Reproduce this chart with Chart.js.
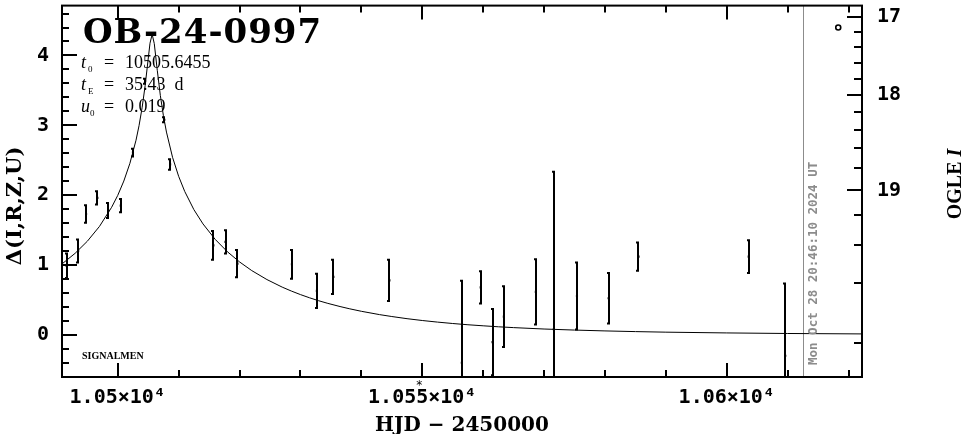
<!DOCTYPE html>
<html>
<head>
<meta charset="utf-8">
<script src="https://cdn.jsdelivr.net/npm/chart.js@4.4.1/dist/chart.umd.min.js"></script>
<style>
html, body { margin: 0; padding: 0; background: #fff; }
#wrap { width: 965px; height: 434px; }
</style>
</head>
<body>
<div id="wrap"><canvas id="lc" width="965" height="434"></canvas></div>
<script>
// photometry: HJD - 2450000, delta, error
var obsT = [10491.6, 10493.5, 10494.8, 10496.65, 10498.45, 10500.5, 10502.5, 10504.5, 10507.65, 10508.6,
            10515.7, 10517.7, 10519.65, 10528.6, 10532.7, 10535.4, 10544.6, 10556.5, 10559.6, 10561.55,
            10563.4, 10568.65, 10571.6, 10575.4, 10580.6, 10585.5, 10603.6, 10609.6];
var obsD = [0.99, 1.20, 1.73, 1.96, 1.78, 1.85, 2.61, 3.63, 3.08, 2.44,
            1.28, 1.33, 1.02, 1.01, 0.63, 0.83, 0.78, -0.40, 0.68, -0.105,
            0.26, 0.615, 0.08, 0.556, 0.523, 1.12, 1.12, -0.30];
var obsErr = [0.19, 0.18, 0.14, 0.11, 0.12, 0.11, 0.07, 0.05, 0.05, 0.09,
              0.22, 0.18, 0.21, 0.22, 0.26, 0.26, 0.31, 1.19, 0.245, 0.49,
              0.45, 0.48, 2.27, 0.495, 0.377, 0.217, 0.25, 1.05];

// model curve
var modelT = [10490.85, 10493, 10495, 10497, 10499, 10500, 10501, 10502, 10503, 10503.5,
              10504, 10504.5, 10505, 10505.3, 10505.65, 10506, 10506.5, 10507, 10507.5, 10508,
              10509, 10510, 10511, 10512.5, 10514, 10516, 10518, 10520, 10522, 10524.5,
              10527, 10528.5, 10530, 10531.5, 10533, 10534.5, 10536.5, 10538, 10540, 10543,
              10545, 10547.5, 10550, 10552.5, 10555, 10557.5, 10560, 10562.5, 10565, 10570,
              10575, 10580, 10585, 10590, 10600, 10610, 10622.2];
var modelD = [1.015, 1.167, 1.339, 1.552, 1.826, 1.996, 2.202, 2.456, 2.786, 2.995,
              3.250, 3.566, 3.949, 4.176, 4.303, 4.170, 3.782, 3.425, 3.137, 2.903,
              2.542, 2.270, 2.053, 1.793, 1.588, 1.367, 1.190, 1.044, 0.920, 0.791,
              0.683, 0.627, 0.576, 0.530, 0.488, 0.450, 0.405, 0.374, 0.337, 0.289,
              0.262, 0.231, 0.205, 0.182, 0.162, 0.144, 0.129, 0.115, 0.103, 0.083,
              0.068, 0.056, 0.046, 0.038, 0.027, 0.019, 0.013];

var ogleMark = [{ x: 10618.3, y: 4.40 }];
var nowT = 10612.5;
var starT = 10549.5;

var xMajor = [10500, 10550, 10600];
var xMajorLabels = ["1.05×10⁴", "1.055×10⁴", "1.06×10⁴"];
var yMajor = [0, 1, 2, 3, 4];
var yMajorLabels = ["0", "1", "2", "3", "4"];
var magMajor = [17, 18, 19];
var magMajorLabels = ["17", "18", "19"];

var xMin = 10490.85, xMax = 10622.2;
var yMin = -0.604, yMax = 4.714;

// OGLE I magnitude -> delta on the left axis
var blendMag = 20, deltaOffset = 1.62;
function magToDelta(m) {
    return 2.5 * Math.log10(Math.pow(10, -0.4 * (m - blendMag)) - 1) + deltaOffset;
}

var xTicks = [];
for (var k = 0; k <= 12; k++) xTicks.push(10500 + 10 * k);
var yTicks = [];
for (var k = -3; k <= 23; k++) yTicks.push(k / 5);
var magTicks = [];
for (var k = 0; k <= 14; k++) magTicks.push((170 + 2 * k) / 10);

var black = "#000";
var grey = "#8c8c8c";
var tickFont = { family: "DejaVu Sans Mono", weight: "bold", size: 20 };

function noPad(s) {
    s.paddingTop = 0; s.paddingBottom = 0; s.paddingLeft = 0; s.paddingRight = 0;
}

var overlay = {
    id: "overlay",
    beforeDatasetsDraw: function (chart) {
        var ctx = chart.ctx, a = chart.chartArea;
        var xs = chart.scales.x, ys = chart.scales.y;
        ctx.save();
        ctx.beginPath();
        ctx.rect(a.left, a.top, a.right - a.left, a.bottom - a.top);
        ctx.clip();

        var nx = Math.round(xs.getPixelForValue(nowT)) + 0.5;
        ctx.strokeStyle = grey;
        ctx.lineWidth = 1;
        ctx.beginPath();
        ctx.moveTo(nx, a.top);
        ctx.lineTo(nx, a.bottom);
        ctx.stroke();

        ctx.strokeStyle = black;
        ctx.lineWidth = 2;
        ctx.beginPath();
        for (var i = 0; i < obsT.length; i++) {
            var x = Math.round(xs.getPixelForValue(obsT[i]));
            var y1 = ys.getPixelForValue(obsD[i] + obsErr[i]);
            var y2 = ys.getPixelForValue(obsD[i] - obsErr[i]);
            ctx.moveTo(x, y1); ctx.lineTo(x, y2);
            ctx.moveTo(x - 2, y1 + 1); ctx.lineTo(x + 1, y1 + 1);
            ctx.moveTo(x - 2, y2 - 1); ctx.lineTo(x + 1, y2 - 1);
        }
        ctx.stroke();
        ctx.restore();
    },
    afterDraw: function (chart) {
        var ctx = chart.ctx, a = chart.chartArea;
        var xs = chart.scales.x, ys = chart.scales.y, ms = chart.scales.y2;
        ctx.save();

        // frame
        ctx.strokeStyle = black;
        ctx.lineWidth = 2;
        ctx.strokeRect(a.left, a.top, a.right - a.left, a.bottom - a.top);

        // inward ticks
        ctx.beginPath();
        xs.ticks.forEach(function (t) {
            var px = Math.round(xs.getPixelForValue(t.value));
            var len = xMajor.indexOf(t.value) >= 0 ? 14 : 7;
            ctx.moveTo(px, a.bottom); ctx.lineTo(px, a.bottom - len);
            ctx.moveTo(px, a.top); ctx.lineTo(px, a.top + len);
        });
        ys.ticks.forEach(function (t) {
            var py = Math.round(ys.getPixelForValue(t.value));
            var len = Math.abs(t.value - Math.round(t.value)) < 1e-9 ? 15 : 7;
            ctx.moveTo(a.left, py); ctx.lineTo(a.left + len, py);
        });
        ms.ticks.forEach(function (t) {
            var py = Math.round(ms.getPixelForValue(t.value));
            var len = magMajor.indexOf(t.mag) >= 0 ? 15 : 8;
            ctx.moveTo(a.right, py); ctx.lineTo(a.right - len, py);
        });
        ctx.stroke();

        ctx.fillStyle = black;
        ctx.textBaseline = "alphabetic";
        ctx.textAlign = "left";

        // event name and parameters
        ctx.font = "bold 34px 'DejaVu Serif'";
        ctx.letterSpacing = "1px";
        ctx.fillText("OB-24-0997", 83, 43);
        ctx.letterSpacing = "0px";

        var rows = [["t", "0", "10505.6455", 68], ["t", "E", "35.43  d", 90], ["u", "0", "0.019", 112]];
        rows.forEach(function (r) {
            ctx.font = "italic 18px 'Liberation Serif'";
            ctx.fillText(r[0], 81, r[3]);
            ctx.font = "9px 'Liberation Serif'";
            ctx.fillText(r[1], r[0] == "u" ? 90 : 88, r[3] + 4);
            ctx.font = "18px 'Liberation Serif'";
            ctx.fillText("=", 104, r[3]);
            ctx.fillText(r[2], 125, r[3]);
        });

        ctx.font = "bold 10px 'Liberation Serif'";
        ctx.fillText("SIGNALMEN", 82, 359);

        ctx.font = "12px 'DejaVu Sans'";
        ctx.textAlign = "center";
        ctx.fillText("*", xs.getPixelForValue(starT), 389);

        // axis titles
        ctx.font = "bold 20px 'DejaVu Serif'";
        ctx.fillText("HJD − 2450000", (a.left + a.right) / 2, 431);

        ctx.save();
        ctx.translate(21, 206);
        ctx.rotate(-Math.PI / 2);
        ctx.font = "bold 21px 'DejaVu Serif'";
        ctx.fillText("Δ(I,R,Z,U)", 0, 0);
        ctx.restore();

        ctx.save();
        ctx.translate(961, 184);
        ctx.rotate(-Math.PI / 2);
        ctx.textAlign = "left";
        ctx.font = "bold 20px 'Liberation Serif'";
        var w1 = ctx.measureText("OGLE ").width;
        ctx.font = "bold italic 20px 'Liberation Serif'";
        var w2 = ctx.measureText("I").width;
        ctx.font = "bold 20px 'Liberation Serif'";
        ctx.fillText("OGLE ", -(w1 + w2) / 2, 0);
        ctx.font = "bold italic 20px 'Liberation Serif'";
        ctx.fillText("I", -(w1 + w2) / 2 + w1, 0);
        ctx.restore();

        // time stamp beside the grey line
        ctx.save();
        ctx.translate(Math.round(xs.getPixelForValue(nowT)) + 14, 365);
        ctx.rotate(-Math.PI / 2);
        ctx.textAlign = "left";
        ctx.fillStyle = grey;
        ctx.font = "bold 12.5px 'DejaVu Sans Mono'";
        ctx.fillText("Mon Oct 28 20:46:10 2024 UT", 0, 0);
        ctx.restore();

        ctx.restore();
    }
};

new Chart("lc", {
    type: "scatter",
    data: {
        datasets: [
            {
                label: "model",
                data: modelT.map(function (t, i) { return { x: t, y: modelD[i] }; }),
                showLine: true,
                borderColor: black,
                borderWidth: 1,
                pointRadius: 0,
                tension: 0
            },
            {
                label: "data",
                data: obsT.map(function (t, i) { return { x: t, y: obsD[i] }; }),
                pointStyle: "rect",
                pointRadius: 1.5,
                borderWidth: 0,
                backgroundColor: black,
                borderColor: black
            },
            {
                label: "ogle",
                data: ogleMark,
                pointStyle: "circle",
                pointRadius: 2.5,
                borderWidth: 1.6,
                backgroundColor: "#fff",
                borderColor: black
            }
        ]
    },
    options: {
        responsive: false,
        animation: false,
        devicePixelRatio: 1,
        layout: { padding: { top: 1, left: 0, right: 0, bottom: 0 } },
        plugins: { legend: { display: false }, tooltip: { enabled: false } },
        scales: {
            x: {
                type: "linear",
                position: "bottom",
                min: xMin,
                max: xMax,
                grid: { display: false, drawTicks: false },
                border: { display: false },
                afterBuildTicks: function (s) { s.ticks = xTicks.map(function (v) { return { value: v }; }); },
                afterFit: function (s) { s.height = 57; noPad(s); },
                ticks: {
                    padding: 9, maxRotation: 0, autoSkip: false, color: black, font: tickFont,
                    callback: function (v) {
                        var i = xMajor.indexOf(v);
                        return i < 0 ? "" : xMajorLabels[i];
                    }
                }
            },
            y: {
                type: "linear",
                position: "left",
                min: yMin,
                max: yMax,
                grid: { display: false, drawTicks: false },
                border: { display: false },
                afterBuildTicks: function (s) { s.ticks = yTicks.map(function (v) { return { value: v }; }); },
                afterFit: function (s) { s.width = 62; noPad(s); },
                ticks: {
                    padding: 13, autoSkip: false, color: black, font: tickFont,
                    callback: function (v) {
                        var i = yMajor.indexOf(v);
                        return i < 0 ? "" : yMajorLabels[i];
                    }
                }
            },
            y2: {
                type: "linear",
                position: "right",
                min: yMin,
                max: yMax,
                grid: { display: false, drawTicks: false },
                border: { display: false },
                afterBuildTicks: function (s) {
                    s.ticks = magTicks.map(function (m) { return { value: magToDelta(m), mag: m }; });
                },
                afterFit: function (s) { s.width = 103; noPad(s); },
                ticks: {
                    padding: 15, autoSkip: false, color: black, font: tickFont,
                    callback: function (v, i, ticks) {
                        var j = magMajor.indexOf(ticks[i].mag);
                        return j < 0 ? "" : magMajorLabels[j];
                    }
                }
            }
        }
    },
    plugins: [overlay]
});
</script>
</body>
</html>
